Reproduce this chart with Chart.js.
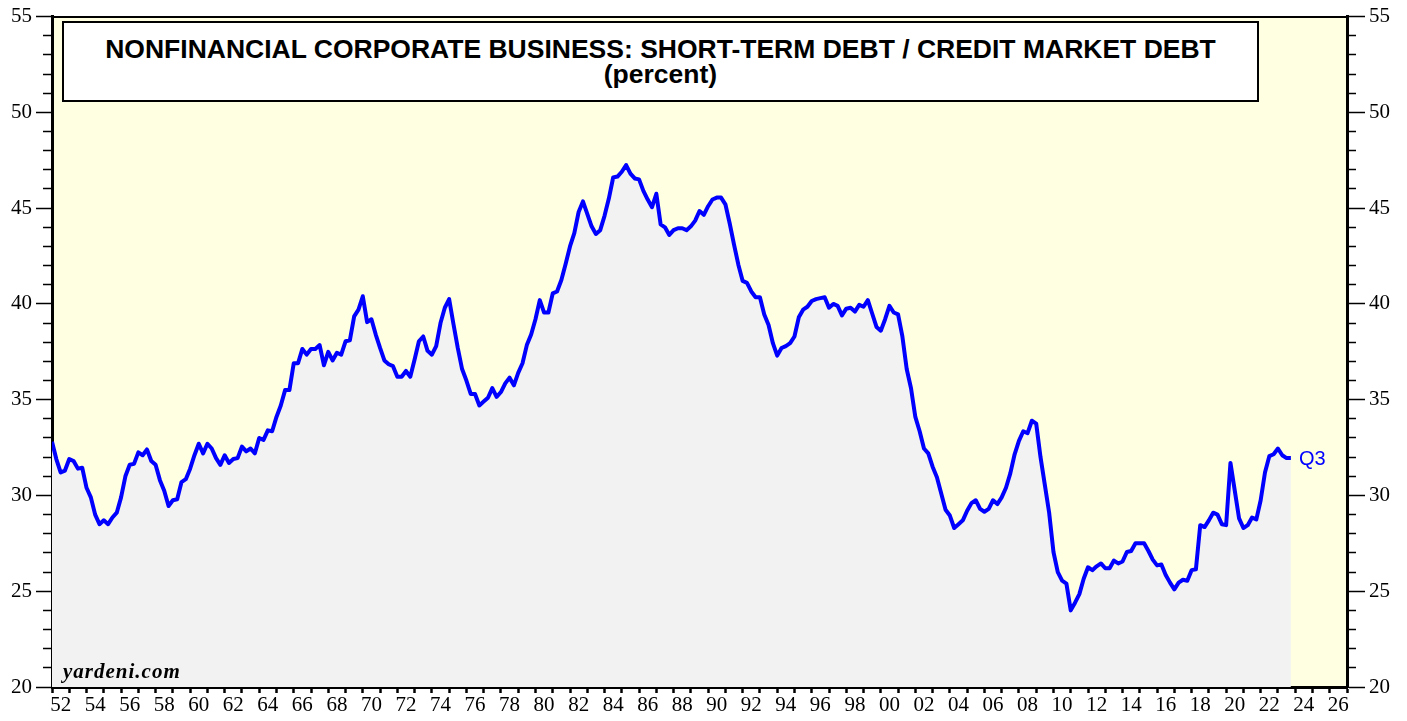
<!DOCTYPE html>
<html>
<head>
<meta charset="utf-8">
<script src="https://cdn.jsdelivr.net/npm/chart.js@4"></script>
<style>
  html, body { margin: 0; padding: 0; background: #ffffff; }
  #wrap { position: relative; width: 1407px; height: 721px; overflow: hidden; }
  #c { position: absolute; left: 0; top: 0; }
  #titleBox {
    position: absolute; left: 62px; top: 21px; width: 1193px; height: 77px;
    border: 2px solid #000; background: #ffffff; text-align: center;
    font-family: "Liberation Sans", Arial, sans-serif; font-weight: bold; color: #000;
  }
  #t1 { position: absolute; left: 0; right: 0; top: 11px; font-size: 26.5px; line-height: 30px; white-space: nowrap; }
  #t2 { position: absolute; left: 0; right: 0; top: 36px; font-size: 26.5px; line-height: 30px; white-space: nowrap; }
  #src { position: absolute; left: 63px; top: 659px; font-family: "Liberation Serif", "Times New Roman", serif;
         font-weight: bold; font-style: italic; font-size: 21px; letter-spacing: 1px; color: #000; line-height: 24px; }
  #q3 { position: absolute; font-family: "Liberation Sans", Arial, sans-serif; font-size: 20px; color: #0000ff; line-height: 20px; }
</style>
</head>
<body>
<div id="wrap">
  <canvas id="c" width="1407" height="721"></canvas>
  <div id="titleBox">
    <div id="t1">NONFINANCIAL CORPORATE BUSINESS: SHORT-TERM DEBT / CREDIT MARKET DEBT</div>
    <div id="t2">(percent)</div>
  </div>
  <div id="src">yardeni.com</div>
  <div id="q3">Q3</div>
</div>
<script>
// Quarterly values (percent), first point = start of 1952, one value per quarter
const firstYear = 1952;
const values1950s = [
  32.8, 31.9, 31.2, 31.3,   31.9, 31.8, 31.4, 31.45,  30.4, 29.9, 29.0, 28.5,  28.7, 28.5, 28.85, 29.1,
  29.9, 31.0, 31.6, 31.65,  32.25, 32.1, 32.4, 31.8,  31.6, 30.8, 30.25, 29.45, 29.75, 29.8, 30.7, 30.85
];
const values1960s = [
  31.4, 32.1, 32.7, 32.2,   32.7, 32.45, 31.95, 31.6, 32.1, 31.7, 31.9, 31.95, 32.55, 32.3, 32.45, 32.2,
  33.0, 32.9, 33.4, 33.35,  34.1, 34.7, 35.5, 35.5,   36.9, 36.9, 37.65, 37.35, 37.65, 37.65, 37.85, 36.8,
  37.5, 37.05, 37.45, 37.35, 38.05, 38.1, 39.35, 39.7
];
const values1970s = [
  40.4, 39.05, 39.2, 38.4,  37.7, 37.05, 36.85, 36.75, 36.2, 36.2, 36.5, 36.2,  37.1, 38.05, 38.3, 37.55,
  37.35, 37.8, 39.0, 39.8,  40.25, 38.95, 37.7, 36.6, 36.0, 35.3, 35.3, 34.7,   34.9, 35.1, 35.6, 35.15,
  35.4, 35.85, 36.15, 35.75, 36.4, 36.9, 37.85, 38.4
];
const values1980s = [
  39.2, 40.2, 39.55, 39.55, 40.55, 40.65, 41.25, 42.1, 43.0, 43.7, 44.8, 45.35, 44.7, 44.05, 43.65, 43.85,
  44.6, 45.5, 46.6, 46.65,  46.9, 47.25, 46.8, 46.55, 46.5, 45.9, 45.45, 45.05, 45.75, 44.15, 44.0, 43.6,
  43.85, 43.95, 43.95, 43.85, 44.05, 44.35, 44.85, 44.65
];
const values1990s = [
  45.1, 45.45, 45.55, 45.55, 45.2, 44.2, 43.1, 42.05, 41.2, 41.1, 40.65, 40.35, 40.35, 39.45, 38.9, 37.95,
  37.3, 37.7, 37.8, 37.95,  38.3, 39.3, 39.7, 39.85,  40.15, 40.25, 40.3, 40.35, 39.8, 40.0, 39.9, 39.4,
  39.75, 39.8, 39.6, 39.95, 39.85, 40.2, 39.5, 38.8
];
const values2000s = [
  38.6, 39.2, 39.9, 39.55,  39.45, 38.3, 36.6, 35.6,  34.1, 33.35, 32.45, 32.2, 31.5, 30.95, 30.1, 29.25,
  28.95, 28.3, 28.5, 28.7,  29.2, 29.6, 29.75, 29.3,  29.15, 29.3, 29.75, 29.55, 29.9, 30.4, 31.15, 32.15,
  32.85, 33.35, 33.25, 33.9, 33.75, 32.0, 30.55, 29.1
];
const values2010s = [
  27.05, 26.0, 25.55, 25.4, 24.0, 24.4, 24.85, 25.65, 26.25, 26.1, 26.3, 26.45, 26.2, 26.2, 26.6, 26.45,
  26.55, 27.05, 27.1, 27.5, 27.5, 27.5, 27.1, 26.65,  26.35, 26.4, 25.85, 25.45, 25.1, 25.45, 25.6, 25.55,
  26.1, 26.15, 28.45, 28.35, 28.7, 29.1, 29.0, 28.5
];
const values2020s = [
  28.45, 31.7, 30.25, 28.8, 28.3, 28.45, 28.85, 28.75, 29.75, 31.2, 32.05, 32.15, 32.45, 32.1, 31.95, 31.95
];
const lastLabel = 'Q3';

// Axis tick labels
const xLabelYears = [1952,1954,1956,1958,1960,1962,1964,1966,1968,1970,1972,1974,1976,1978,1980,1982,1984,1986,1988,1990,1992,1994,1996,1998,2000,2002,2004,2006,2008,2010,2012,2014,2016,2018,2020,2022,2024,2026];
const xTickLabels = ['52','54','56','58','60','62','64','66','68','70','72','74','76','78','80','82','84','86','88','90','92','94','96','98','00','02','04','06','08','10','12','14','16','18','20','22','24','26'];
const yLabelValues = [20, 25, 30, 35, 40, 45, 50, 55];

const allValues = [].concat(values1950s, values1960s, values1970s, values1980s, values1990s, values2000s, values2010s, values2020s);
const points = allValues.map((v, i) => ({ x: firstYear + i / 4, y: v }));

const bgPlugin = {
  id: 'plotBg',
  beforeDraw(chart) {
    const { ctx, chartArea: a } = chart;
    ctx.save();
    ctx.fillStyle = '#FFFFE2';
    ctx.fillRect(a.left, a.top, a.right - a.left, a.bottom - a.top);
    ctx.restore();
  }
};

const serif = { family: '"Liberation Serif", "Times New Roman", serif', size: 21 };

const chart = new Chart(document.getElementById('c'), {
  type: 'line',
  data: {
    datasets: [{
      data: points,
      borderColor: '#0000FF',
      borderWidth: 4,
      backgroundColor: '#F2F2F2',
      fill: 'start',
      pointRadius: 0,
      tension: 0,
      borderJoinStyle: 'round'
    }]
  },
  options: {
    responsive: false,
    devicePixelRatio: 1,
    animation: false,
    layout: { padding: 0 },
    plugins: { legend: { display: false }, tooltip: { enabled: false }, title: { display: false } },
    scales: {
      x: {
        type: 'linear', position: 'bottom', min: 1952, max: 2027,
        afterBuildTicks(scale) {
          const t = [];
          for (let y = 1952; y <= 2027; y++) {
            t.push({ value: y });
            if (y < 2027) t.push({ value: y + 0.5 });
          }
          scale.ticks = t;
        },
        afterFit(scale) { scale.height = 34; },
        ticks: {
          autoSkip: false, maxRotation: 0, minRotation: 0, padding: 0, color: '#000', font: serif,
          callback(value) {
            const i = xLabelYears.indexOf(value - 0.5);
            return i >= 0 ? xTickLabels[i] : '';
          }
        },
        grid: {
          drawOnChartArea: false, drawTicks: true, tickLength: 6, tickWidth: 2.5,
          tickColor: (ctx) => (ctx.tick && Number.isInteger(ctx.tick.value)) ? '#000' : 'rgba(0,0,0,0)'
        },
        border: { display: true, color: '#000', width: 3 }
      },
      xTop: {
        type: 'linear', position: 'top', min: 1952, max: 2027,
        afterFit(scale) { scale.height = 15; },
        ticks: { display: false },
        grid: { display: false },
        border: { display: true, color: '#000', width: 2 }
      },
      y: {
        type: 'linear', position: 'left', min: 20, max: 55,
        afterFit(scale) { scale.width = 52; },
        ticks: {
          stepSize: 1, autoSkip: false, padding: 4, color: '#000', font: serif,
          callback(value) { return yLabelValues.includes(value) ? String(value) : ''; }
        },
        grid: {
          drawOnChartArea: false, tickLength: 16, tickWidth: 1.5, tickColor: '#000',
          tickBorderDash: (ctx) => (ctx.tick && yLabelValues.includes(ctx.tick.value)) ? [] : [0, 7, 12, 100]
        },
        border: { display: true, color: '#000', width: 3 }
      },
      yRight: {
        type: 'linear', position: 'right', min: 20, max: 55,
        afterFit(scale) { scale.width = 60; },
        ticks: {
          stepSize: 1, autoSkip: false, padding: 4, color: '#000', font: serif,
          callback(value) { return yLabelValues.includes(value) ? String(value) : ''; }
        },
        grid: {
          drawOnChartArea: false, tickLength: 18, tickWidth: 1.5, tickColor: '#000',
          tickBorderDash: (ctx) => (ctx.tick && yLabelValues.includes(ctx.tick.value)) ? [] : [7, 100]
        },
        border: { display: true, color: '#000', width: 3 }
      }
    }
  },
  plugins: [bgPlugin]
});

// Position the last-quarter label next to the final point
const last = points[points.length - 1];
const q3 = document.getElementById('q3');
q3.textContent = lastLabel;
q3.style.left = (chart.scales.x.getPixelForValue(last.x) + 8) + 'px';
q3.style.top = (chart.scales.y.getPixelForValue(last.y) - 10) + 'px';
</script>
</body>
</html>
